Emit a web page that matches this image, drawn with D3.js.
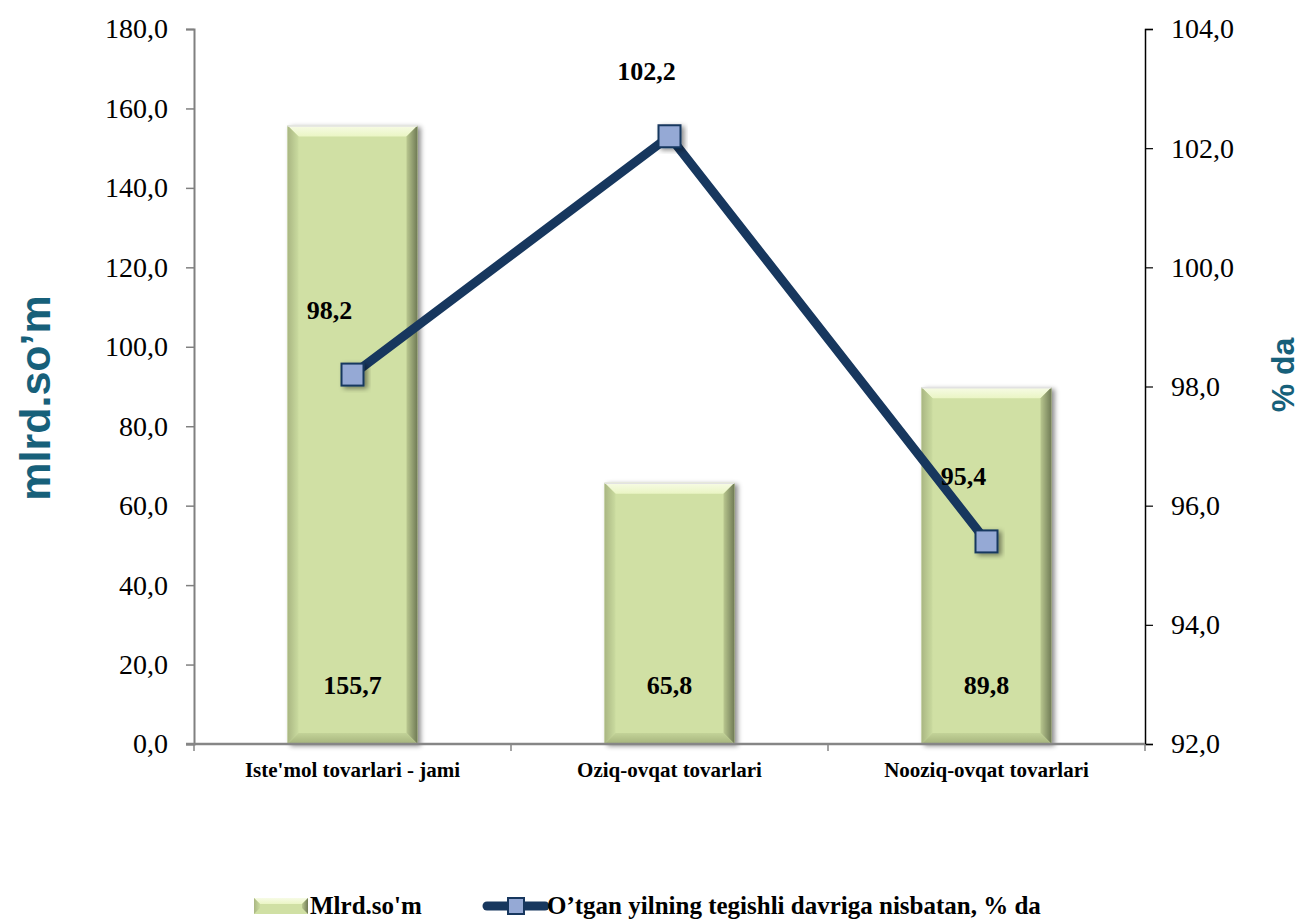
<!DOCTYPE html>
<html>
<head>
<meta charset="utf-8">
<script src="https://cdn.jsdelivr.net/npm/d3@7"></script>
<style>
  body { margin:0; background:#fff; }
  svg { display:block; }
</style>
</head>
<body>
<svg id="chart" width="1301" height="922"></svg>
<script>
// data
var categories = ["Iste'mol tovarlari - jami", "Oziq-ovqat tovarlari", "Nooziq-ovqat tovarlari"];
var barValues = [155.7, 65.8, 89.8];
var lineValues = [98.2, 102.2, 95.4];
var leftTicks = [0, 20, 40, 60, 80, 100, 120, 140, 160, 180];
var rightTicks = [92, 94, 96, 98, 100, 102, 104];
var barName = "Mlrd.so'm";
var lineName = "O\u2019tgan yilning tegishli davriga nisbatan, % da";

var plotL = 194, plotR = 1145, plotT = 29, plotB = 744;
var fmt = function(v){ return d3.format(".1f")(v).replace(".", ","); };

var svg = d3.select("#chart");

var defs = svg.append("defs");
var f = defs.append("filter").attr("id","shadow").attr("x","-20%").attr("y","-20%").attr("width","150%").attr("height","150%");
f.append("feDropShadow").attr("dx",3).attr("dy",2).attr("stdDeviation",2.5).attr("flood-color","#000").attr("flood-opacity",0.45);

// gradients for the bevel
function lin(id, x1, y1, x2, y2, stops){
  var g = defs.append("linearGradient").attr("id", id)
    .attr("x1",x1).attr("y1",y1).attr("x2",x2).attr("y2",y2);
  stops.forEach(function(s){ g.append("stop").attr("offset",s[0]).attr("stop-color",s[1]); });
}
lin("bevTop","0","0","0","1",[["0","#f7fbe6"],["1","#eaf5c4"]]);
lin("bevRight","0","0","1","0",[["0","#b9c78f"],["1","#6f7a55"]]);
lin("bevLeft","0","0","1","0",[["0","#a9b682"],["1","#cadb9f"]]);
lin("bevBottom","0","0","0","1",[["0","#c3d398"],["1","#a5b37c"]]);

var x = d3.scaleBand().domain(categories).range([plotL, plotR]).padding(0);
var yL = d3.scaleLinear().domain([0, 180]).range([plotB, plotT]);
var yR = d3.scaleLinear().domain([92, 104]).range([plotB, plotT]);
var barW = x.bandwidth() * 0.41;
var cx = function(c){ return x(c) + x.bandwidth() / 2; };

// bars with bevel
var bev = 11;
var bars = svg.append("g").selectAll("g").data(barValues).enter().append("g")
  .attr("filter","url(#shadow)");
bars.each(function(d, i){
  var g = d3.select(this);
  var x0 = cx(categories[i]) - barW / 2, x1 = x0 + barW;
  var y0 = yL(d), y1 = yL(0);
  g.append("rect").attr("x",x0).attr("y",y0).attr("width",barW).attr("height",y1-y0).attr("fill","#d0e0a4");
  g.append("polygon").attr("fill","url(#bevTop)")
    .attr("points",[[x0,y0],[x1,y0],[x1-bev,y0+bev],[x0+bev,y0+bev]].join(" "));
  g.append("polygon").attr("fill","url(#bevRight)")
    .attr("points",[[x1,y0],[x1,y1],[x1-bev,y1-bev],[x1-bev,y0+bev]].join(" "));
  g.append("polygon").attr("fill","url(#bevLeft)")
    .attr("points",[[x0,y0],[x0+bev,y0+bev],[x0+bev,y1-bev],[x0,y1]].join(" "));
  g.append("polygon").attr("fill","url(#bevBottom)")
    .attr("points",[[x0,y1],[x0+bev,y1-bev],[x1-bev,y1-bev],[x1,y1]].join(" "));
  g.append("line").attr("x1",x0).attr("x2",x1).attr("y1",y0+0.5).attr("y2",y0+0.5).attr("stroke","#e2e2e2").attr("stroke-width",1.5);
});

// axes
var axL = svg.append("g").attr("transform","translate(" + plotL + ",0)")
  .call(d3.axisLeft(yL).tickValues(leftTicks).tickFormat(fmt).tickSize(8).tickPadding(18));
axL.select(".domain").attr("stroke","#808080").attr("stroke-width",2);
axL.selectAll(".tick line").attr("stroke","#808080").attr("stroke-width",1.5);
axL.selectAll("text").attr("font-family","'Liberation Serif', serif").attr("font-size",28).attr("fill","#000");

var axR = svg.append("g").attr("transform","translate(" + plotR + ",0)")
  .call(d3.axisRight(yR).tickValues(rightTicks).tickFormat(fmt).tickSize(8).tickPadding(18));
axR.select(".domain").attr("stroke","#000").attr("stroke-width",1.5);
axR.selectAll(".tick line").attr("stroke","#000").attr("stroke-width",1.2);
axR.selectAll("text").attr("font-family","'Liberation Serif', serif").attr("font-size",28).attr("fill","#000");

var axX = svg.append("g").attr("transform","translate(0," + plotB + ")");
axX.append("line").attr("x1",plotL-8).attr("x2",plotR).attr("stroke","#868686").attr("stroke-width",2.5);
var bounds = categories.map(function(c){ return x(c); }).concat([plotR]);
axX.selectAll(".tk").data(bounds).enter().append("line")
  .attr("x1",function(d){return d;}).attr("x2",function(d){return d;})
  .attr("y1",0).attr("y2",7).attr("stroke","#868686").attr("stroke-width",1.5);
axX.selectAll(".cat").data(categories).enter().append("text")
  .attr("x",function(d){ return cx(d); }).attr("y",33)
  .attr("text-anchor","middle").attr("font-family","'Liberation Serif', serif")
  .attr("font-weight","bold").attr("font-size",21).text(function(d){ return d; });

// bar labels
svg.append("g").selectAll("text").data(barValues).enter().append("text")
  .attr("x",function(d,i){ return cx(categories[i]); }).attr("y",plotB-50)
  .attr("text-anchor","middle").attr("font-family","'Liberation Serif', serif")
  .attr("font-weight","bold").attr("font-size",26).text(fmt);

// line
var line = d3.line().x(function(d,i){ return cx(categories[i]); }).y(function(d){ return yR(d); });
svg.append("path").datum(lineValues).attr("d",line).attr("fill","none")
  .attr("stroke","#17375e").attr("stroke-width",9).attr("stroke-linejoin","miter");
var ms = 22;
svg.append("g").selectAll("rect").data(lineValues).enter().append("rect")
  .attr("x",function(d,i){ return cx(categories[i]) - ms/2; })
  .attr("y",function(d){ return yR(d) - ms/2; })
  .attr("width",ms).attr("height",ms)
  .attr("fill","#95a9d5").attr("stroke","#17375e").attr("stroke-width",2)
  .attr("filter","url(#shadow)");
svg.append("g").selectAll("text").data(lineValues).enter().append("text")
  .attr("x",function(d,i){ return cx(categories[i]) - 23; })
  .attr("y",function(d){ return yR(d) - 56; })
  .attr("text-anchor","middle").attr("font-family","'Liberation Serif', serif")
  .attr("font-weight","bold").attr("font-size",26).text(fmt);

// axis titles
svg.append("text").attr("transform","translate(50,398) rotate(-90)")
  .attr("text-anchor","middle").attr("font-family","'Liberation Sans', Arial, sans-serif")
  .attr("font-weight","bold").attr("font-size",43).attr("fill","#17607a").text("mlrd.so\u2019m");
svg.append("text").attr("transform","translate(1294,375) rotate(-90)")
  .attr("text-anchor","middle").attr("font-family","'Liberation Sans', Arial, sans-serif")
  .attr("font-weight","bold").attr("font-size",32).attr("fill","#17607a").text("% da");

// legend
var lg = svg.append("g");
var ly = 906;
var sw = lg.append("g");
sw.append("rect").attr("x",254).attr("y",ly-8).attr("width",54).attr("height",16).attr("fill","#d0e0a4");
sw.append("polygon").attr("fill","url(#bevTop)").attr("points",[[254,ly-8],[308,ly-8],[302,ly-2],[260,ly-2]].join(" "));
sw.append("polygon").attr("fill","url(#bevRight)").attr("points",[[308,ly-8],[308,ly+8],[302,ly+2],[302,ly-2]].join(" "));
sw.append("polygon").attr("fill","url(#bevLeft)").attr("points",[[254,ly-8],[260,ly-2],[260,ly+2],[254,ly+8]].join(" "));
lg.append("text").attr("x",310).attr("y",ly+8).attr("font-family","'Liberation Serif', serif")
  .attr("font-weight","bold").attr("font-size",25).text(barName);
lg.append("line").attr("x1",487).attr("x2",545).attr("y1",ly).attr("y2",ly)
  .attr("stroke","#17375e").attr("stroke-width",9).attr("stroke-linecap","round");
lg.append("rect").attr("x",508).attr("y",ly-8).attr("width",16).attr("height",16)
  .attr("fill","#95a9d5").attr("stroke","#17375e").attr("stroke-width",2);
lg.append("text").attr("x",547).attr("y",ly+8).attr("font-family","'Liberation Serif', serif")
  .attr("font-weight","bold").attr("font-size",25).text(lineName);
</script>
</body>
</html>
